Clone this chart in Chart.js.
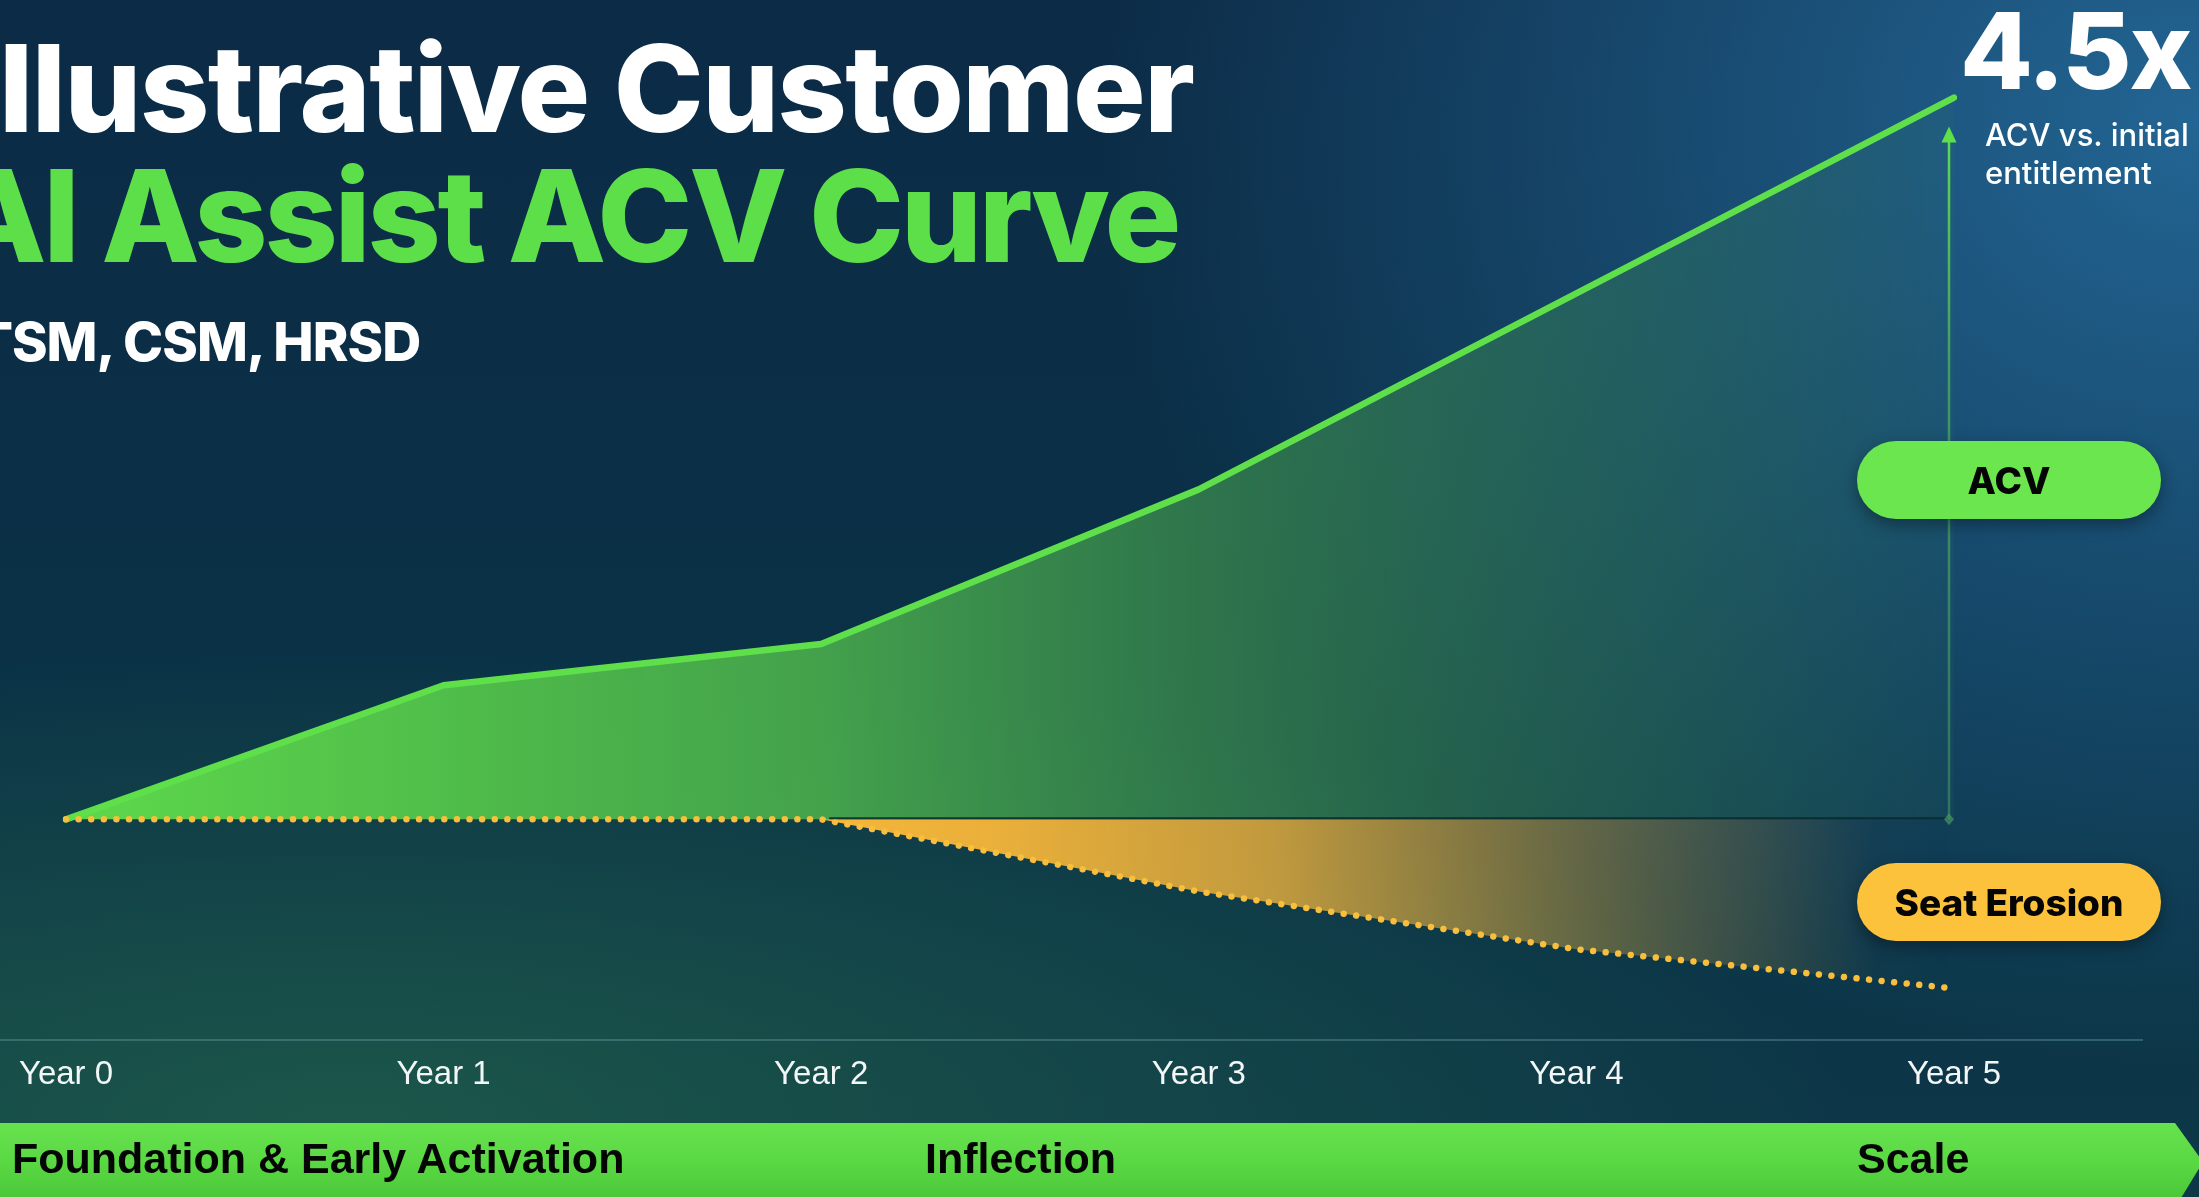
<!DOCTYPE html>
<html>
<head>
<meta charset="utf-8">
<script src="https://cdn.jsdelivr.net/npm/chart.js@4.4.1/dist/chart.umd.min.js"></script>
<style>
html,body{margin:0;padding:0;width:2199px;height:1197px;overflow:hidden;background:#0b2c45;}
#stage{position:relative;width:2199px;height:1197px;overflow:hidden;
  background:
    radial-gradient(ellipse 1100px 950px at 2199px 120px, rgba(36,104,152,0.95), rgba(36,104,152,0) 100%),
    radial-gradient(ellipse 1500px 480px at 350px 1120px, rgba(30,92,74,0.85), rgba(30,92,74,0) 100%),
    linear-gradient(180deg, #0c2b46 0%, #0a3146 55%, #0d3848 100%);
}
#wrap{position:absolute;left:0;top:0;width:2199px;height:1197px;}
.t{position:absolute;white-space:nowrap;font-family:Inter,"Noto Sans",sans-serif;line-height:1;}
#t1{left:-34px;top:28px;font-size:121px;font-weight:800;color:#ffffff;letter-spacing:-1.5px;}
#t2{left:-52px;top:152px;font-size:128px;font-weight:800;color:#5ddf49;letter-spacing:-3.3px;}
#t3{left:-38px;top:315px;font-size:54px;font-weight:800;color:#ffffff;letter-spacing:-1px;}
#mult{left:1960px;top:-2px;font-size:106px;font-weight:800;color:#ffffff;letter-spacing:-2px;}
#multsub{left:1985px;top:116px;font-size:31px;font-weight:500;color:#ffffff;line-height:38px;}
.pill{position:absolute;left:1857px;width:304px;height:78px;border-radius:39px;
  display:flex;align-items:center;justify-content:center;
  font-family:Inter,"Noto Sans",sans-serif;font-weight:800;font-size:37px;color:#050505;
  box-shadow:0 6px 16px rgba(0,0,0,0.35);}
#pAcv{top:441px;background:#6ce64e;}
#pSeat{top:863px;background:#fdc23c;}
#banner{position:absolute;left:0;top:1123px;width:2199px;height:80px;
  background:linear-gradient(180deg,#66e24d 0%,#5ad843 50%,#48c537 100%);
  clip-path:polygon(0 0, 2175px 0, 2203px 39px, 2178px 80px, 0 80px);}
.bt{position:absolute;top:1137px;font-family:"Liberation Sans",Arial,sans-serif;font-weight:700;font-size:43px;color:#050505;line-height:1;white-space:nowrap;}
</style>
</head>
<body>
<div id="stage">
  <div id="wrap"><canvas id="c"></canvas></div>
  <div class="t" id="t1">Illustrative Customer</div>
  <div class="t" id="t2">AI Assist ACV Curve</div>
  <div class="t" id="t3">ITSM, CSM, HRSD</div>
  <div class="t" id="mult">4.5x</div>
  <div class="t" id="multsub">ACV vs. initial<br>entitlement</div>
  <div class="pill" id="pAcv">ACV</div>
  <div class="pill" id="pSeat">Seat Erosion</div>
  <div id="banner"></div>
  <div class="bt" style="left:12px">Foundation &amp; Early Activation</div>
  <div class="bt" style="left:925px">Inflection</div>
  <div class="bt" style="left:1857px">Scale</div>
</div>
<script>
// ---- data ----
const years = ['Year 0', 'Year 1', 'Year 2', 'Year 3', 'Year 4', 'Year 5'];
const acvValues = [1, 1.65, 1.85, 2.6, 3.55, 4.5];
const seatValues = [1, 1, 1, 0.65, 0.37, 0.18];
const baselineValue = 1;
const arrowTopValue = 4.36;
const yMin = -0.07;
const yMax = 4.75;

function acvFill(ctx) {
  const chart = ctx.chart;
  const x = chart.scales.x;
  if (!chart.chartArea || !x) return 'rgba(90,210,75,0.8)';
  const g = chart.ctx.createLinearGradient(x.getPixelForValue(0), 0, x.getPixelForValue(years.length - 1), 0);
  g.addColorStop(0.0, 'rgba(94,216,75,1)');
  g.addColorStop(0.2, 'rgba(80,190,74,1)');
  g.addColorStop(0.4, 'rgba(72,170,76,0.93)');
  g.addColorStop(0.6, 'rgba(64,150,78,0.68)');
  g.addColorStop(0.8, 'rgba(60,140,84,0.40)');
  g.addColorStop(1.0, 'rgba(60,140,90,0.08)');
  return g;
}
function seatFill(ctx) {
  const chart = ctx.chart;
  const x = chart.scales.x;
  if (!chart.chartArea || !x) return 'rgba(242,180,58,0.6)';
  const g = chart.ctx.createLinearGradient(x.getPixelForValue(2), 0, x.getPixelForValue(5), 0);
  g.addColorStop(0.0, 'rgba(244,182,58,1)');
  g.addColorStop(0.15, 'rgba(242,180,58,0.97)');
  g.addColorStop(0.4, 'rgba(238,178,60,0.80)');
  g.addColorStop(0.66, 'rgba(230,176,64,0.41)');
  g.addColorStop(0.83, 'rgba(220,170,66,0.18)');
  g.addColorStop(0.93, 'rgba(220,170,66,0.02)');
  g.addColorStop(1.0, 'rgba(220,170,66,0)');
  return g;
}

const decor = {
  id: 'decor',
  afterDatasetsDraw(chart) {
    const c = chart.ctx, xs = chart.scales.x, ys = chart.scales.y;
    const yb = ys.getPixelForValue(baselineValue);
    c.save();
    c.strokeStyle = 'rgba(8,40,42,0.85)';
    c.lineWidth = 2;
    c.beginPath();
    c.moveTo(xs.getPixelForValue(2) + 8, yb - 1);
    c.lineTo(xs.getPixelForValue(5) - 6, yb - 1);
    c.stroke();
    const ya = ys.getPixelForValue(yMin);
    c.strokeStyle = 'rgba(110,160,165,0.38)';
    c.lineWidth = 2;
    c.beginPath();
    c.moveTo(0, ya);
    c.lineTo(xs.getPixelForValue(5) + 189, ya);
    c.stroke();
    const ax = xs.getPixelForValue(5) - 5;
    const at = ys.getPixelForValue(arrowTopValue);
    const lg = c.createLinearGradient(0, at, 0, yb);
    lg.addColorStop(0, 'rgba(96,224,76,1)');
    lg.addColorStop(0.35, 'rgba(90,200,90,0.6)');
    lg.addColorStop(1, 'rgba(80,170,110,0.45)');
    c.strokeStyle = lg;
    c.lineWidth = 2.5;
    c.beginPath();
    c.moveTo(ax, at + 12);
    c.lineTo(ax, yb);
    c.stroke();
    c.fillStyle = '#5fe04b';
    c.beginPath();
    c.moveTo(ax, at);
    c.lineTo(ax - 7.5, at + 16);
    c.lineTo(ax + 7.5, at + 16);
    c.closePath();
    c.fill();
    c.fillStyle = 'rgba(70,150,100,0.7)';
    c.beginPath();
    c.moveTo(ax, yb - 6);
    c.lineTo(ax + 5, yb);
    c.lineTo(ax, yb + 6);
    c.lineTo(ax - 5, yb);
    c.closePath();
    c.fill();
    c.restore();
  }
};

new Chart(document.getElementById('c'), {
  type: 'line',
  data: {
    labels: years,
    datasets: [
      {
        label: 'Seat Erosion',
        data: seatValues,
        borderColor: '#f8be3c',
        borderWidth: 6.5,
        borderDash: [0.01, 12.6],
        borderCapStyle: 'round',
        backgroundColor: seatFill,
        fill: { target: { value: baselineValue } },
        pointRadius: 0,
        tension: 0
      },
      {
        label: 'ACV',
        data: acvValues,
        borderColor: '#5fe04b',
        borderWidth: 6.5,
        borderCapStyle: 'round',
        borderJoinStyle: 'round',
        backgroundColor: acvFill,
        fill: { target: { value: baselineValue } },
        pointRadius: 0,
        tension: 0
      }
    ]
  },
  options: {
    responsive: true,
    maintainAspectRatio: false,
    animation: false,
    devicePixelRatio: 1,
    layout: { padding: { left: 66, right: 245, top: 46, bottom: 0 } },
    plugins: { legend: { display: false }, tooltip: { enabled: false } },
    scales: {
      x: {
        type: 'category',
        offset: false,
        grid: { display: false, drawTicks: false },
        border: { display: false },
        ticks: {
          color: '#f2f6f6',
          font: { family: '"Liberation Sans", Arial, sans-serif', size: 33 },
          padding: 15,
          maxRotation: 0,
          autoSkip: false
        },
        afterFit(s) { s.height = 157; }
      },
      y: { display: false, min: yMin, max: yMax }
    }
  },
  plugins: [decor]
});
</script>
</body>
</html>
